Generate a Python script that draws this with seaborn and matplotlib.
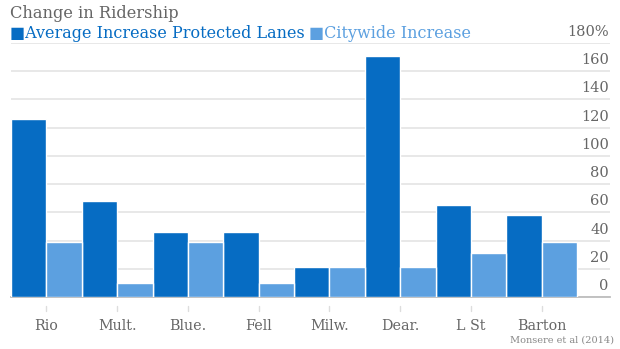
import matplotlib
matplotlib.use("Agg")
import matplotlib.pyplot as plt
import matplotlib.transforms as mtransforms
import seaborn as sns
import pandas as pd

categories = ["Rio", "Mult.", "Blue.", "Fell", "Milw.", "Dear.", "L St", "Barton"]
series = ["Average Increase Protected Lanes", "Citywide Increase"]
protected = [126, 68, 46, 46, 21, 171, 65, 58]
citywide = [39, 10, 39, 10, 21, 21, 31, 39]
yticks = [0, 20, 40, 60, 80, 100, 120, 140, 160, 180]
ytick_labels = ["0", "20", "40", "60", "80", "100", "120", "140", "160", "180%"]
title = "Change in Ridership"
source = "Monsere et al (2014)"

dark = "#066cc3"
light = "#5ca0e0"
gray_text = "#666666"

df = pd.DataFrame({
    "category": categories * 2,
    "series": [series[0]] * len(categories) + [series[1]] * len(categories),
    "value": protected + citywide,
})

sns.set_theme(style="white")
plt.rcParams["font.family"] = ["DejaVu Serif"]

W, H = 620, 349
fig = plt.figure(figsize=(W / 100, H / 100), dpi=100)
ax = fig.add_axes([11 / W, 1 - 297 / H, (610 - 11) / W, (297 - 43) / H])

sns.barplot(data=df, x="category", y="value", hue="series", order=categories,
            hue_order=series, palette=[dark, light], width=1, saturation=1,
            edgecolor="white", linewidth=1, legend=False, ax=ax, zorder=3)

ax.set_ylim(0, 180)
ax.set_xlim(-0.5, -0.5 + 599 / ((577 - 11) / 8))
ax.set_yticks(yticks)
ax.set_yticklabels([])
ax.tick_params(axis="y", length=0)
ax.grid(axis="y", color="#e6e6e6", linewidth=1.3, zorder=0)
ax.grid(axis="x", visible=False)
for s in ["left", "right", "top"]:
    ax.spines[s].set_visible(False)
ax.spines["bottom"].set_color("#bdbdbd")
ax.spines["bottom"].set_linewidth(1.3)
ax.set_xlabel("")
ax.set_ylabel("")

# y labels inside the plot, right-aligned above each gridline
trans = mtransforms.blended_transform_factory(ax.transAxes, ax.transData)
for v, lab in zip(yticks, ytick_labels):
    ax.text(0.998, v, lab, transform=mtransforms.offset_copy(trans, fig=fig, x=0, y=4, units="dots"),
            ha="right", va="bottom", fontsize=10.5, color=gray_text)

# x tick labels and small detached tick marks
ax.set_xticks(range(len(categories)))
ax.set_xticklabels(categories, fontsize=10.3, color=gray_text)
ax.tick_params(axis="x", length=0, pad=16)
tx = mtransforms.blended_transform_factory(ax.transData, ax.transAxes)
for i in range(len(categories)):
    ax.plot([i, i], [-9 / 254, -14 / 254], transform=tx, color="#dddddd",
            linewidth=1, clip_on=False)

# title and legend-like header
fig.text(10 / W, 1 - 14 / H, title, ha="left", va="center", fontsize=11.7, color=gray_text)
t1 = fig.text(10 / W, 1 - 33 / H, "\u25a0" + series[0], ha="left", va="center",
              fontsize=11.5, color=dark)
fig.canvas.draw()
bb = t1.get_window_extent()
fig.text((bb.x1 + 4) / W, 1 - 33 / H, "\u25a0" + series[1], ha="left", va="center",
         fontsize=11.5, color=light)

fig.text(614 / W, 1 - 340 / H, source, ha="right", va="center", fontsize=7, color="#888888")

fig.savefig("out.png", dpi=100)
